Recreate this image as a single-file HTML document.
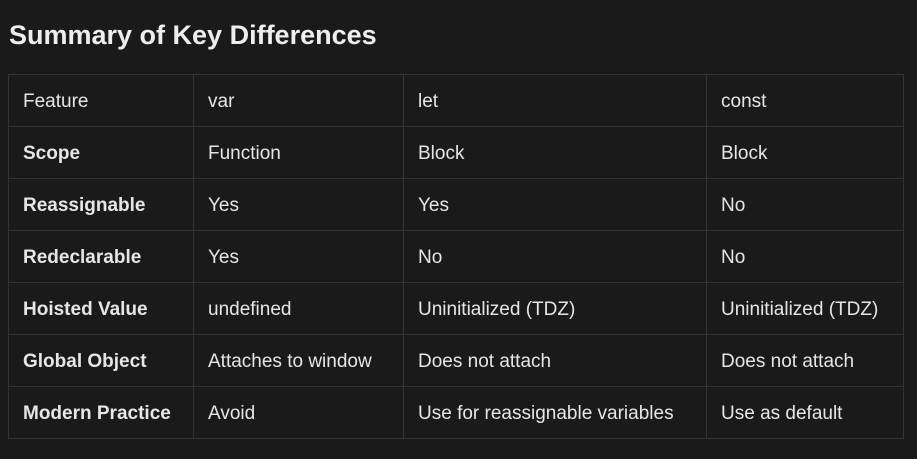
<!DOCTYPE html>
<html><head><style>
body{margin:0;background:#1a1a1a;width:917px;height:459px;overflow:hidden;font-family:"Liberation Sans",sans-serif;color:#e6e6e6}
h1{position:absolute;left:9px;top:20px;margin:0;font-size:27px;font-weight:bold;color:#eee}
table{position:absolute;left:8px;top:74px;border-collapse:collapse;font-size:19px}
td{border:1px solid #333;height:52px;padding:3px 0 0 14px;box-sizing:border-box;vertical-align:middle;white-space:nowrap}
td.b{font-weight:bold}
</style></head><body>
<h1>Summary of Key Differences</h1>
<table>
<colgroup><col style="width:185px"><col style="width:210px"><col style="width:303px"><col style="width:197px"></colgroup>
<tr><td>Feature</td><td>var</td><td>let</td><td>const</td></tr>
<tr><td class="b">Scope</td><td>Function</td><td>Block</td><td>Block</td></tr>
<tr><td class="b">Reassignable</td><td>Yes</td><td>Yes</td><td>No</td></tr>
<tr><td class="b">Redeclarable</td><td>Yes</td><td>No</td><td>No</td></tr>
<tr><td class="b">Hoisted Value</td><td>undefined</td><td>Uninitialized (TDZ)</td><td>Uninitialized (TDZ)</td></tr>
<tr><td class="b">Global Object</td><td>Attaches to window</td><td>Does not attach</td><td>Does not attach</td></tr>
<tr><td class="b">Modern Practice</td><td>Avoid</td><td>Use for reassignable variables</td><td>Use as default</td></tr>
</table>
</body></html>
